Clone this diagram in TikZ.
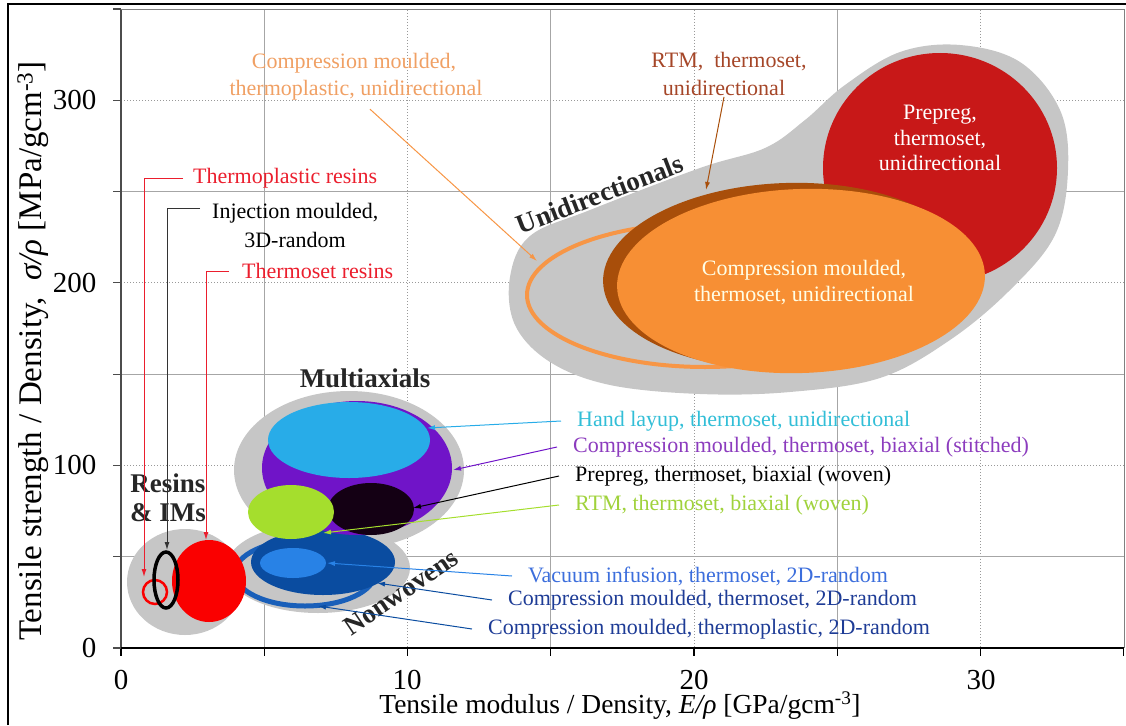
\documentclass[tikz,border=0pt]{standalone}
\usepackage{fontspec}
\setmainfont{Liberation Serif}
\usetikzlibrary{arrows.meta}

\definecolor{blobgray}{RGB}{198,198,198}
\definecolor{udred}{RGB}{200,24,24}
\definecolor{udbrown}{RGB}{168,78,10}
\definecolor{udorange}{RGB}{247,143,52}
\definecolor{ringorange}{RGB}{247,150,70}
\definecolor{maxpurple}{RGB}{112,20,200}
\definecolor{maxcyan}{RGB}{40,172,232}
\definecolor{maxblack}{RGB}{20,0,20}
\definecolor{maxgreen}{RGB}{165,222,45}
\definecolor{nwdark}{RGB}{10,76,160}
\definecolor{nwmid}{RGB}{40,130,230}
\definecolor{nwring}{RGB}{25,95,185}
\definecolor{resred}{RGB}{250,0,0}
\definecolor{txtred}{RGB}{235,30,45}
\definecolor{txtorange}{RGB}{240,160,100}
\definecolor{txtbrown}{RGB}{165,70,40}
\definecolor{txtcyan}{RGB}{50,190,215}
\definecolor{txtpurple}{RGB}{140,60,190}
\definecolor{txtgreen}{RGB}{160,210,60}
\definecolor{txtblue}{RGB}{60,110,220}
\definecolor{txtnavy}{RGB}{30,60,150}

\begin{document}
\begin{tikzpicture}[x=1pt,y=-1pt,
	lab/.style={font=\fontsize{22}{26}\selectfont, inner sep=1pt},
	grp/.style={font=\fontsize{27}{31}\selectfont\bfseries, text=black!85},
	ticklab/.style={font=\fontsize{29}{32}\selectfont},
	ptr/.style={-{Latex[length=8pt,width=5pt]}, line width=1pt},
	gridminor/.style={gray!70, line width=1pt},
	gridmajor/.style={gray!80, line width=1pt, dotted}]

	\useasboundingbox (0,0) rectangle (1126,725);
	\draw[line width=2.5pt] (8,725) -- (8,4) -- (1126,4);

	% grid
	\foreach \d in {5,15,25}
		\draw[gridminor] (121+28.65*\d,10) -- (121+28.65*\d,648);
	\foreach \d in {10,20,30}
		\draw[gridmajor] (121+28.65*\d,10) -- (121+28.65*\d,648);
	\foreach \v in {50,150,250}
		\draw[gridminor] (121,648-1.8257*\v) -- (1124,648-1.8257*\v);
	\foreach \v in {100,200,300}
		\draw[gridmajor] (121,648-1.8257*\v) -- (1124,648-1.8257*\v);
	\draw[gray, line width=1pt] (121,10) -- (1124,10) -- (1124,648);

	% axes
	\draw[black!70, line width=1.2pt] (121,10) -- (121,648);
	\draw[line width=1.5pt] (121,648) -- (1124,648);
	\foreach \d in {0,5,...,35}
		\draw[line width=1.2pt] (121+28.65*\d,648) -- (121+28.65*\d,656);
	\foreach \v in {0,50,...,350}
		\draw[black!70, line width=1.2pt] (113,648-1.8257*\v) -- (121,648-1.8257*\v);

	\node[ticklab, anchor=east] (ty300) at (100,100) {300};
	\node[ticklab, anchor=east] (ty200) at (100,283) {200};
	\node[ticklab, anchor=east] (ty100) at (100,465) {100};
	\node[ticklab, anchor=east] (ty0) at (100,648) {0};
	\node[ticklab] (tx0) at (121,680) {0};
	\node[ticklab] (tx10) at (407,680) {10};
	\node[ticklab] (tx20) at (694,680) {20};
	\node[ticklab] (tx30) at (981,680) {30};

	\node[font=\fontsize{27.5}{30}\selectfont] (xtitle) at (620,706)
		{Tensile modulus / Density, \textit{E/ρ} [GPa/gcm\textsuperscript{-3}]};
	\node[font=\fontsize{33}{36}\selectfont, rotate=90] (ytitle) at (33,351)
		{Tensile strength / Density,\ \ \textit{σ/ρ} [MPa/gcm\textsuperscript{-3}]};

	% grey envelopes
	\fill[blobgray] plot[smooth cycle, tension=0.6] coordinates {
		(510,277) (530,236) (590,210) (700,168) (765,148) (805,120) (845,85)
		(900,52) (960,45) (1020,62) (1060,110) (1068,170) (1055,235) (1010,290)
		(950,340) (880,378) (790,392) (700,394) (610,385) (550,362) (515,325)};
	\fill[blobgray] (349,470) ellipse [x radius=115, y radius=79];
	\fill[blobgray] (318,568) ellipse [x radius=92, y radius=45];
	\fill[blobgray] (185,582) ellipse [x radius=58, y radius=53];

	% unidirectionals
	\fill[udred] (940,168) ellipse [x radius=117, y radius=115];
	\draw[ringorange, line width=4pt] (705,295) ellipse [x radius=178, y radius=72];
	\fill[udbrown] (787,276) ellipse [x radius=184, y radius=93, rotate=2];
	\fill[udorange] (801,281) ellipse [x radius=184, y radius=92, rotate=2];

	% nonwovens
	\draw[nwring, line width=5pt] (305,573) ellipse [x radius=70, y radius=33];
	\fill[nwdark] (323,562) ellipse [x radius=72, y radius=33];
	\fill[nwmid] (293,563) ellipse [x radius=33, y radius=15];

	% multiaxials
	\fill[maxpurple] (357,468) ellipse [x radius=95, y radius=67];
	\fill[maxcyan] (349,440) ellipse [x radius=81, y radius=38];
	\fill[maxblack] (371,509) ellipse [x radius=43, y radius=26];
	\fill[maxgreen] (291,512) ellipse [x radius=43, y radius=27];

	% resins
	\fill[resred] (209,581) ellipse [x radius=37, y radius=41];
	\draw[resred, line width=2.5pt] (155,592) circle [radius=12];
	\draw[black, line width=3.5pt] (166,580) ellipse [x radius=12, y radius=28];

	% group names
	\node[grp, rotate=21] (gud) at (600,194) {Unidirectionals};
	\node[grp] (gmax) at (365,378) {Multiaxials};
	\node[grp, rotate=34] (gnw) at (401,592) {Nonwovens};
	\node[grp] (gres1) at (168,483) {Resins};
	\node[grp] (gres2) at (168,513) {\& IMs};

	% texts inside shapes
	\node[lab, white, align=center, font=\fontsize{22}{25.5}\selectfont] (prepud) at (940,138)
		{Prepreg,\\thermoset,\\unidirectional};
	\node[lab, white!90!yellow, align=center] (cmtsud) at (804,283)
		{Compression moulded,\\thermoset, unidirectional};

	% tips
	\coordinate (tptip) at (144,577);
	\coordinate (injtip) at (167,550);
	\coordinate (tstip) at (206,540);
	\coordinate (cmtpudtip) at (537,261);
	\coordinate (rtmudtip) at (706,190);
	\coordinate (handtip) at (427,428);
	\coordinate (stitchtip) at (453,470);
	\coordinate (prebxtip) at (413,508);
	\coordinate (rtmbxtip) at (323,533);
	\coordinate (vactip) at (327,563);
	\coordinate (cmts2dtip) at (377,583);
	\coordinate (cmtp2dtip) at (318,606);

	% labels left
	\node[lab, txtred, anchor=west, inner xsep=10pt] (tpres) at (183,178) {Thermoplastic resins};
	\node[lab, black, anchor=west, inner xsep=12pt] (inj1) at (200,213) {Injection moulded,};
	\node[lab, black] (inj2) at (295,240) {3D-random};
	\node[lab, txtred, anchor=west, inner xsep=13pt] (tsres) at (229,271) {Thermoset resins};

	\draw[ptr, txtred] (tpres.west) -| (tptip);
	\draw[ptr, black!80] ([yshift=5pt]inj1.west) -| (injtip);
	\draw[ptr, txtred] (tsres.west) -| (tstip);

	% labels top
	\node[lab, txtorange] (cmtpud1) at (354,63) {Compression moulded,};
	\node[lab, txtorange] (cmtpud2) at (356,90) {thermoplastic, unidirectional};
	\node[lab, txtbrown] (rtmud1) at (729,62) {RTM,\ \ thermoset,};
	\node[lab, txtbrown] (rtmud2) at (724,88) {unidirectional};

	\draw[ptr, ringorange] (cmtpud2.south) ++(14pt,-8pt) -- (cmtpudtip);
	\draw[ptr, udbrown] (rtmud2.south) -- (rtmudtip);

	% labels right
	\node[lab, txtcyan, anchor=west, inner xsep=16pt] (hand) at (561,421) {Hand layup, thermoset, unidirectional};
	\node[lab, txtpurple, anchor=west, inner xsep=16pt] (stitch) at (557,447) {Compression moulded, thermoset, biaxial (stitched)};
	\node[lab, black, anchor=west, inner xsep=16pt] (prebx) at (559,476) {Prepreg, thermoset, biaxial (woven)};
	\node[lab, txtgreen, anchor=west, inner xsep=16pt] (rtmbx) at (559,505) {RTM, thermoset, biaxial (woven)};
	\node[lab, txtblue, anchor=west, inner xsep=16pt] (vac) at (512,576) {Vacuum infusion, thermoset, 2D-random};
	\node[lab, txtnavy, anchor=west, inner xsep=16pt] (cmts2d) at (492,600) {Compression moulded, thermoset, 2D-random};
	\node[lab, txtnavy, anchor=west, inner xsep=16pt] (cmtp2d) at (472,629) {Compression moulded, thermoplastic, 2D-random};

	\draw[ptr, maxcyan] (hand.west) -- (handtip);
	\draw[ptr, maxpurple] (stitch.west) -- (stitchtip);
	\draw[ptr, black] (prebx.west) -- (prebxtip);
	\draw[ptr, maxgreen] (rtmbx.west) -- (rtmbxtip);
	\draw[ptr, nwmid] (vac.west) -- (vactip);
	\draw[ptr, nwdark] (cmts2d.west) -- (cmts2dtip);
	\draw[ptr, nwdark] (cmtp2d.west) -- (cmtp2dtip);

\end{tikzpicture}
\end{document}
